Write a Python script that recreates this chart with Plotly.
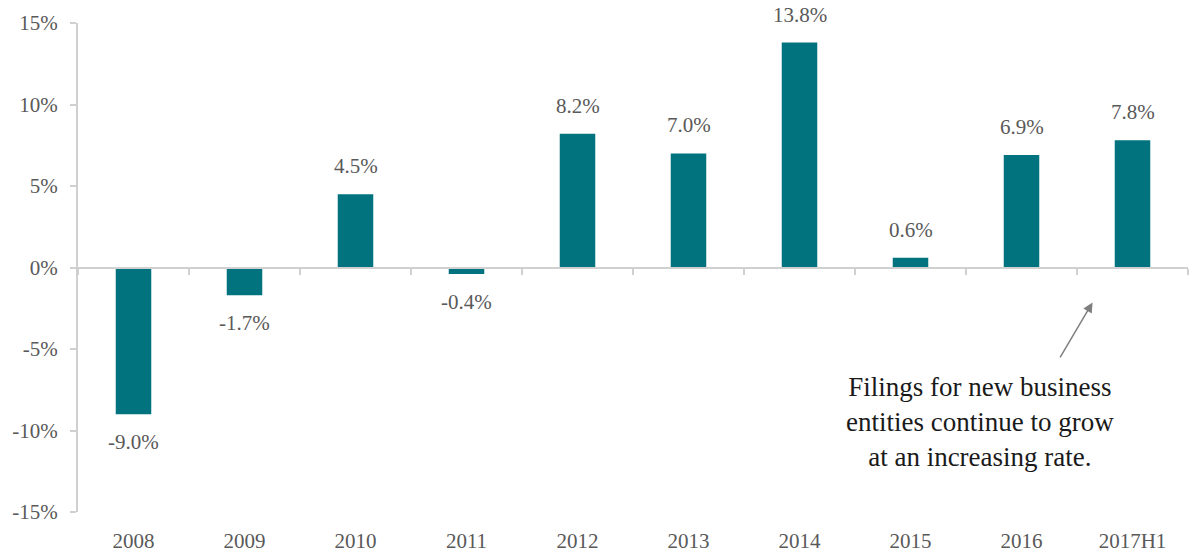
import plotly.graph_objects as go

years = ["2008", "2009", "2010", "2011", "2012", "2013", "2014", "2015", "2016", "2017H1"]
growth = [-9.0, -1.7, 4.5, -0.4, 8.2, 7.0, 13.8, 0.6, 6.9, 7.8]
y_ticks = [-15, -10, -5, 0, 5, 10, 15]
note = "Filings for new business<br>entities continue to grow<br>at an increasing rate."

FONT = "Liberation Serif"
GREY_TXT = "#595959"
LINE = "#d0d0d0"

labels = [f"{v:.1f}%" for v in growth]

fig = go.Figure()
fig.add_trace(go.Bar(
    x=years, y=growth, marker_color="#00737E", marker_line_width=0,
    hoverinfo="x+y",
))
# invisible trace carrying the category ticks along the zero line
fig.add_trace(go.Scatter(x=years, y=[0] * len(years), xaxis="x2", mode="markers",
                         marker=dict(opacity=0), hoverinfo="skip", showlegend=False))

# value labels: above positive bars, below negative ones
for i, (v, lab) in enumerate(zip(growth, labels)):
    fig.add_annotation(x=i, y=v, xref="x", yref="y", text=lab, showarrow=False,
                       yanchor="bottom" if v >= 0 else "top",
                       yshift=14 if v >= 0 else -14,
                       font=dict(family=FONT, size=21, color=GREY_TXT))

fig.update_layout(
    width=1189, height=554,
    margin=dict(l=78, r=1, t=23, b=42),
    plot_bgcolor="white", paper_bgcolor="white",
    showlegend=False, bargap=0.68,
    font=dict(family=FONT, color=GREY_TXT),
    xaxis=dict(type="category", categoryarray=years, range=[-0.5, 9.5],
               showline=False, ticks="", showgrid=False, ticklabelstandoff=14,
               tickfont=dict(family=FONT, size=21, color=GREY_TXT)),
    xaxis2=dict(type="category", categoryarray=years, range=[-0.5, 9.5],
                overlaying="x", anchor="free", position=0.5,
                showline=True, linecolor=LINE, linewidth=2,
                ticks="outside", tickson="boundaries", ticklen=6, tickwidth=2,
                tickcolor=LINE, showticklabels=False, showgrid=False),
    yaxis=dict(range=[-15, 15], tickvals=y_ticks,
               ticktext=[f"{v}%" for v in y_ticks],
               showline=True, linecolor=LINE, linewidth=2,
               ticks="outside", ticklen=6, tickwidth=2, tickcolor=LINE,
               showgrid=False, zeroline=False, ticklabelstandoff=8,
               tickfont=dict(family=FONT, size=21, color=GREY_TXT)),
)

fig.add_annotation(x=8.64, y=-2.15, ax=8.34, ay=-5.6, xref="x", yref="y",
                   axref="x", ayref="y", text="", showarrow=True,
                   arrowhead=2, arrowsize=1.3, arrowwidth=1.5, arrowcolor="#7f7f7f")
fig.add_annotation(x=7.63, y=-9.45, xref="x", yref="y", text=note,
                   showarrow=False, align="center",
                   font=dict(family=FONT, size=27, color="#1a1a1a"))

fig.write_html("out.html")
